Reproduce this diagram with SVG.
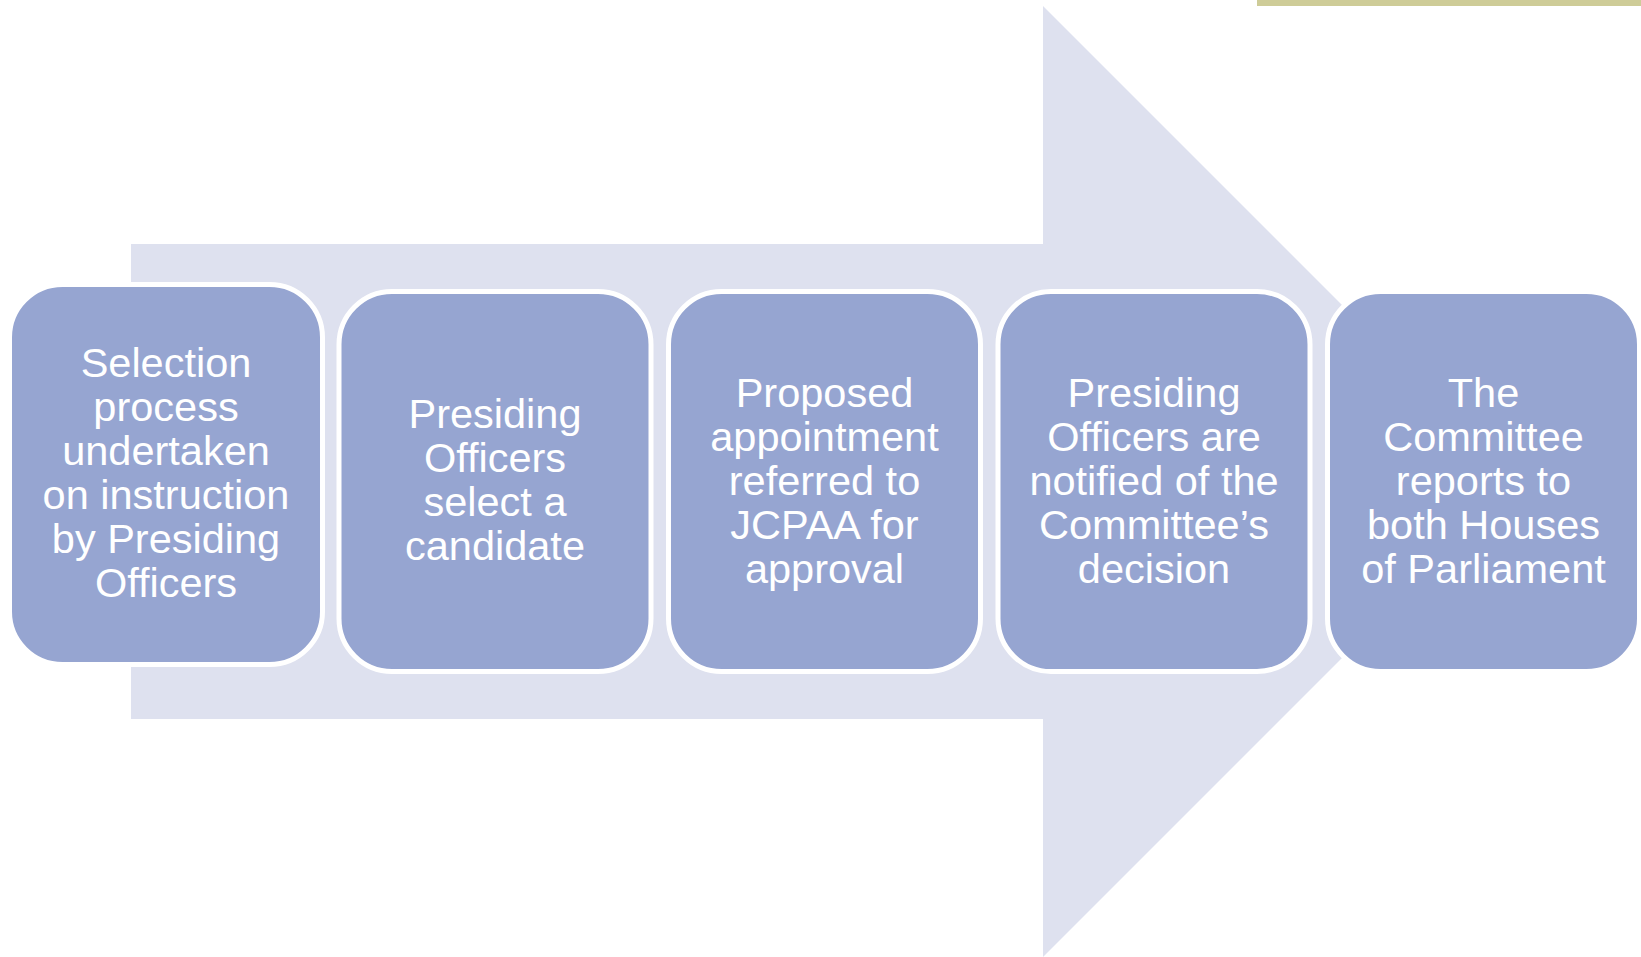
<svg xmlns="http://www.w3.org/2000/svg" width="1641" height="957" viewBox="0 0 1641 957">
<style>
.box{fill:#96A5D1;stroke:#FFFFFF;stroke-width:5}
.lbl{font-family:"Liberation Sans",Arial,sans-serif;font-size:41.5px;fill:#FFFFFF;text-anchor:middle}
</style>
<rect width="1641" height="957" fill="#FFFFFF"/>
<rect id="accent-bar" x="1257" y="0" width="384" height="6" fill="#CECC98"/>
<g id="connectors">
<polygon points="131,244 1043,244 1043,6 1518.5,481.5 1043,957 1043,719 131,719" fill="#DEE1EF"/>
</g>
<g id="node1">
<rect class="box" x="9.5" y="284.5" width="313" height="380" rx="53"/>
<text class="lbl"><tspan x="166" y="377">Selection</tspan><tspan x="166" y="421">process</tspan><tspan x="166" y="465">undertaken</tspan><tspan x="166" y="509">on instruction</tspan><tspan x="166" y="553">by Presiding</tspan><tspan x="166" y="597">Officers</tspan></text>
</g>
<g id="node2">
<rect class="box" x="339" y="291.5" width="312" height="380" rx="53"/>
<text class="lbl"><tspan x="495" y="428">Presiding</tspan><tspan x="495" y="472">Officers</tspan><tspan x="495" y="516">select a</tspan><tspan x="495" y="560">candidate</tspan></text>
</g>
<g id="node3">
<rect class="box" x="668.5" y="291.5" width="312" height="380" rx="53"/>
<text class="lbl"><tspan x="824.5" y="406.5">Proposed</tspan><tspan x="824.5" y="450.5">appointment</tspan><tspan x="824.5" y="494.5">referred to</tspan><tspan x="824.5" y="538.5">JCPAA for</tspan><tspan x="824.5" y="582.5">approval</tspan></text>
</g>
<g id="node4">
<rect class="box" x="998" y="291.5" width="312" height="380" rx="53"/>
<text class="lbl"><tspan x="1154" y="406.5">Presiding</tspan><tspan x="1154" y="450.5">Officers are</tspan><tspan x="1154" y="494.5">notified of the</tspan><tspan x="1154" y="538.5">Committee’s</tspan><tspan x="1154" y="582.5">decision</tspan></text>
</g>
<g id="node5">
<rect class="box" x="1327.5" y="291.5" width="312" height="380" rx="53"/>
<text class="lbl"><tspan x="1483.5" y="406.5">The</tspan><tspan x="1483.5" y="450.5">Committee</tspan><tspan x="1483.5" y="494.5">reports to</tspan><tspan x="1483.5" y="538.5">both Houses</tspan><tspan x="1483.5" y="582.5">of Parliament</tspan></text>
</g>
</svg>
